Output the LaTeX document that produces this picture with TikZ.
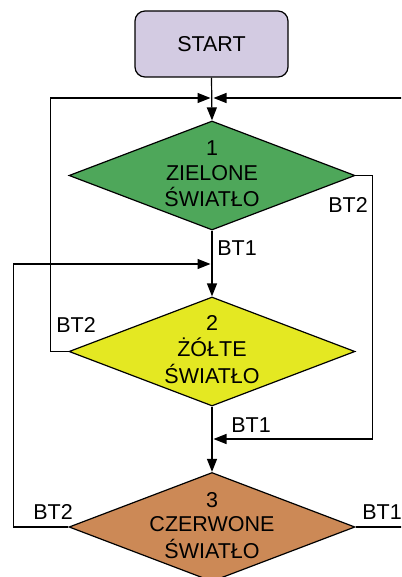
\documentclass[tikz,border=0pt]{standalone}
\usepackage{fontspec}
\setmainfont{Liberation Sans}
\usetikzlibrary{shapes.geometric,arrows.meta}
\definecolor{startfill}{RGB}{211,203,226}
\definecolor{greenfill}{RGB}{78,167,90}
\definecolor{yellowfill}{RGB}{228,232,34}
\definecolor{brownfill}{RGB}{204,137,86}
\newcommand\dtext[1]{\smash{\makebox[0pt]{\raisebox{-6pt}{\begin{tabular}{@{}c@{}}#1\end{tabular}}}}}
\begin{document}
\begin{tikzpicture}[x=1pt,y=-1pt,
  line width=1.2pt,
  every node/.style={font=\fontsize{21.5}{24.5}\selectfont},
  startbox/.style={draw,rounded corners=10pt,minimum width=153pt,minimum height=66pt,inner sep=0pt,fill=startfill},
  decision/.style={draw,diamond,shape aspect=2.62,minimum width=286pt,minimum height=109pt,inner sep=0pt},
  arr/.style={-{Triangle[length=13pt,width=10pt]}},
  lbl/.style={inner sep=0pt}]
\clip (0,0) rectangle (401,577);
\node[startbox] (start) at (211.5,44) {START};
\node[decision,fill=greenfill] (d1) at (212,175.5) {\dtext{1\\ZIELONE\\ŚWIATŁO}};
\node[decision,fill=yellowfill] (d2) at (212,351.5) {\dtext{2\\ŻÓŁTE\\ŚWIATŁO}};
\node[decision,fill=brownfill] (d3) at (212,527) {\dtext{3\\CZERWONE\\ŚWIATŁO}};
\coordinate (m1l) at (210.5,98);
\coordinate (m1r) at (213.5,98);
\coordinate (m2) at (210.5,264);
\coordinate (m3) at (213.5,439);
% main flow
\draw[arr] (start.south) -- (d1.north);
\draw[arr] (d1.south) -- (d2.north);
\draw[arr] (d2.south) -- (d3.north);
% loops
\draw[arr] (d1.east) -- ++(17,0) |- (m3);
\draw[arr] (d2.west) -- ++(-18,0) |- (m1l);
\draw[arr] (d3.west) -- ++(-55,0) |- (m2);
\draw[arr] (d3.east) -- ++(60,0) |- (m1r);
% labels
\node[lbl] (l1) at (348,205) {BT2};
\node[lbl] (l2) at (237,248) {BT1};
\node[lbl] (l3) at (76,325) {BT2};
\node[lbl] (l4) at (251,425) {BT1};
\node[lbl] (l5) at (53,512) {BT2};
\node[lbl] (l6) at (382,512) {BT1};
\end{tikzpicture}
\end{document}
